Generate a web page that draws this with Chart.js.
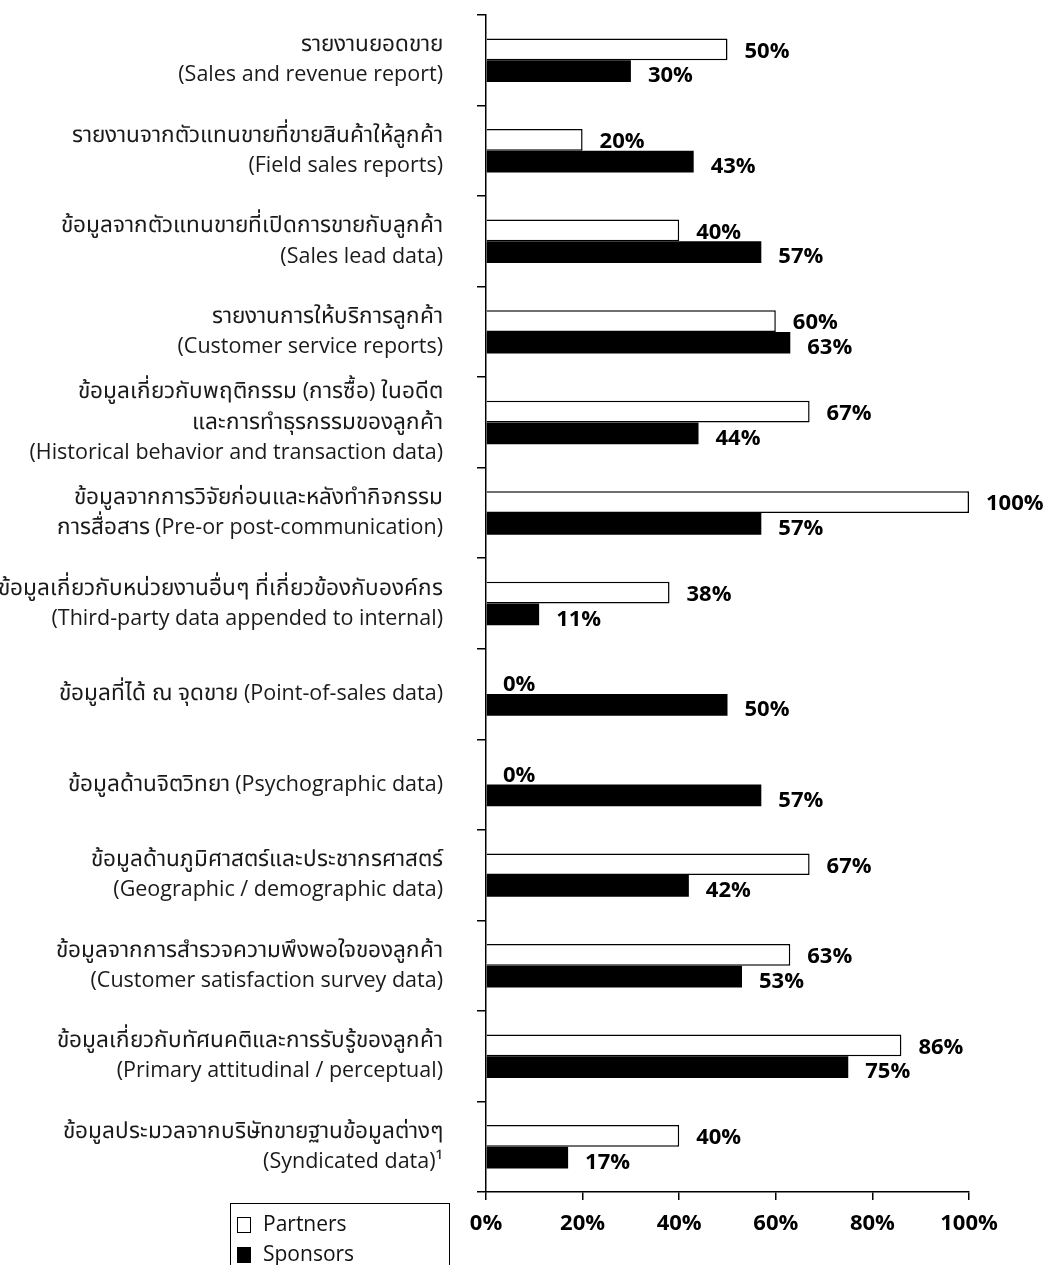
<!DOCTYPE html>
<html>
<head>
<meta charset="utf-8">
<script src="https://cdn.jsdelivr.net/npm/chart.js@4.4.1/dist/chart.umd.min.js"></script>
<style>
  @font-face {
    font-family: "ThaiX";
    src: local("Noto Sans Thai"), local("NotoSansThai-Regular"), local("Noto Sans Thai UI"),
         local("Noto Sans Thai Looped"), local("Garuda"), local("Loma"), local("Waree");
    size-adjust: 105%;
    unicode-range: U+0E00-0E7F;
  }
  html, body { margin: 0; padding: 0; background: #fff; }
  #wrap { position: relative; width: 1053px; height: 1265px; overflow: hidden; }
  #legend {
    position: absolute; left: 230px; top: 1203px; width: 220px; height: 80px;
    border: 1.5px solid #000; box-sizing: border-box;
    font: 21px "Open Sans", "Noto Sans", sans-serif; color: #111;
  }
  .item { position: absolute; left: 6px; height: 24px; line-height: 24px; }
  .sw { display: inline-block; width: 14px; height: 16px; border: 1.5px solid #000; box-sizing: border-box; vertical-align: -2px; margin-right: 12px; }
</style>
</head>
<body>
<div id="wrap">
  <canvas id="myChart" width="1053" height="1265"></canvas>
  <div id="legend">
    <div class="item" style="top:7px"><span class="sw"></span>Partners</div>
    <div class="item" style="top:37px"><span class="sw" style="background:#000"></span>Sponsors</div>
  </div>
</div>
<script>
// categories (Thai + English), top to bottom
const categories = [
  ["รายงานยอดขาย", "(Sales and revenue report)"],
  ["รายงานจากตัวแทนขายที่ขายสินค้าให้ลูกค้า", "(Field sales reports)"],
  ["ข้อมูลจากตัวแทนขายที่เปิดการขายกับลูกค้า", "(Sales lead data)"],
  ["รายงานการให้บริการลูกค้า", "(Customer service reports)"],
  ["ข้อมูลเกี่ยวกับพฤติกรรม (การซื้อ) ในอดีต", "และการทำธุรกรรมของลูกค้า", "(Historical behavior and transaction data)"],
  ["ข้อมูลจากการวิจัยก่อนและหลังทำกิจกรรม", "การสื่อสาร (Pre-or post-communication)"],
  ["ข้อมูลเกี่ยวกับหน่วยงานอื่นๆ ที่เกี่ยวข้องกับองค์กร", "(Third-party data appended to internal)"],
  "ข้อมูลที่ได้ ณ จุดขาย (Point-of-sales data)",
  "ข้อมูลด้านจิตวิทยา (Psychographic data)",
  ["ข้อมูลด้านภูมิศาสตร์และประชากรศาสตร์", "(Geographic / demographic data)"],
  ["ข้อมูลจากการสำรวจความพึงพอใจของลูกค้า", "(Customer satisfaction survey data)"],
  ["ข้อมูลเกี่ยวกับทัศนคติและการรับรู้ของลูกค้า", "(Primary attitudinal / perceptual)"],
  ["ข้อมูลประมวลจากบริษัทขายฐานข้อมูลต่างๆ", "(Syndicated data)¹"]
];
const partners = [50, 20, 40, 60, 67, 100, 38, 0, 0, 67, 63, 86, 40];
const sponsors = [30, 43, 57, 63, 44, 57, 11, 50, 57, 42, 53, 75, 17];
const xTicks = [0, 20, 40, 60, 80, 100];

const FONT = '"Open Sans", "ThaiX", "Noto Sans Thai", "Noto Sans", sans-serif';

// draws the "NN%" next to each bar
const valueLabels = {
  id: 'valueLabels',
  afterDatasetsDraw(chart) {
    const ctx = chart.ctx;
    ctx.save();
    ctx.font = 'bold 22px ' + FONT;
    ctx.fillStyle = '#000';
    ctx.textBaseline = 'middle';
    ctx.textAlign = 'left';
    chart.data.datasets.forEach((ds, i) => {
      const meta = chart.getDatasetMeta(i);
      meta.data.forEach((bar, j) => {
        const dy = i === 0 ? 2 : 5;
        ctx.fillText(ds.data[j] + '%', bar.x + 17, bar.y + dy);
      });
    });
    ctx.restore();
  }
};

function draw() {
  const ctx = document.getElementById('myChart');
  new Chart(ctx, {
    type: 'bar',
    data: {
      labels: categories,
      datasets: [
        {
          label: 'Partners',
          data: partners,
          backgroundColor: '#fff',
          borderColor: '#000',
          borderWidth: 1.5,
          borderSkipped: 'start',
          categoryPercentage: 0.48,
          barPercentage: 1
        },
        {
          label: 'Sponsors',
          data: sponsors,
          backgroundColor: '#000',
          borderColor: '#000',
          borderWidth: 0,
          categoryPercentage: 0.48,
          barPercentage: 1
        }
      ]
    },
    options: {
      indexAxis: 'y',
      responsive: false,
      animation: false,
      layout: { padding: { top: 15, right: 84, left: 0, bottom: 0 } },
      plugins: {
        legend: { display: false },
        tooltip: { enabled: false }
      },
      scales: {
        x: {
          min: 0,
          max: 100,
          afterBuildTicks: (axis) => { axis.ticks = xTicks.map(v => ({ value: v })); },
          afterFit: (axis) => { axis.height = 73; axis.paddingLeft = 0; axis.paddingRight = 0; },
          grid: { drawOnChartArea: false, tickLength: 8, color: '#000', lineWidth: 1.5 },
          border: { color: '#000', width: 1.5 },
          ticks: {
            callback: (v) => v + '%',
            color: '#000',
            padding: 11,
            maxRotation: 0,
            font: { family: FONT, size: 22, weight: 'bold' }
          }
        },
        y: {
          afterFit: (axis) => { axis.width = 486; axis.paddingTop = 0; axis.paddingBottom = 0; },
          grid: { drawOnChartArea: false, offset: true, tickLength: 9, color: '#000', lineWidth: 1.5 },
          border: { color: '#000', width: 1.5 },
          ticks: {
            color: '#1a1a1a',
            padding: 34,
            autoSkip: false,
            font: { family: FONT, size: 21.5, lineHeight: 1.4 }
          }
        }
      }
    },
    plugins: [valueLabels]
  });
}

document.fonts.load('21px ThaiX', 'ก').then(draw, draw);
</script>
</body>
</html>
